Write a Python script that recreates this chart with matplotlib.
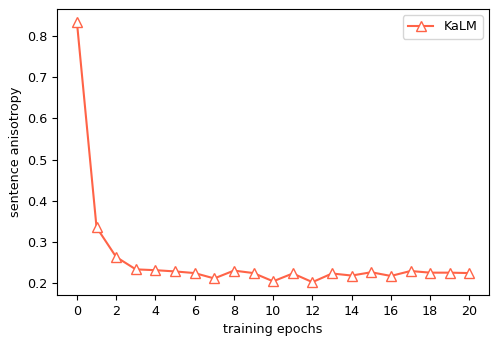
import matplotlib
matplotlib.use("Agg")
import matplotlib.pyplot as plt

plt.rcParams["font.size"] = 9.2

# sentence anisotropy per training epoch
epochs = list(range(21))
anisotropy = [0.834, 0.336, 0.264, 0.234, 0.232, 0.229, 0.225, 0.212, 0.231, 0.225,
              0.205, 0.224, 0.203, 0.224, 0.219, 0.227, 0.218, 0.230, 0.226, 0.226, 0.225]

fig, ax = plt.subplots(figsize=(4.98, 3.44), dpi=100)
ax.plot(epochs, anisotropy, color="tomato", marker="^", markerfacecolor="white",
        markersize=6.5, linewidth=1.5, label="KaLM")
ax.set_xticks(range(0, 21, 2))
ax.set_yticks([0.2, 0.3, 0.4, 0.5, 0.6, 0.7, 0.8])
ax.set_xlabel("training epochs")
ax.set_ylabel("sentence anisotropy")
ax.legend(loc="upper right")
plt.subplots_adjust(left=0.115, right=0.982, top=0.974, bottom=0.142)
plt.savefig("out.png")
